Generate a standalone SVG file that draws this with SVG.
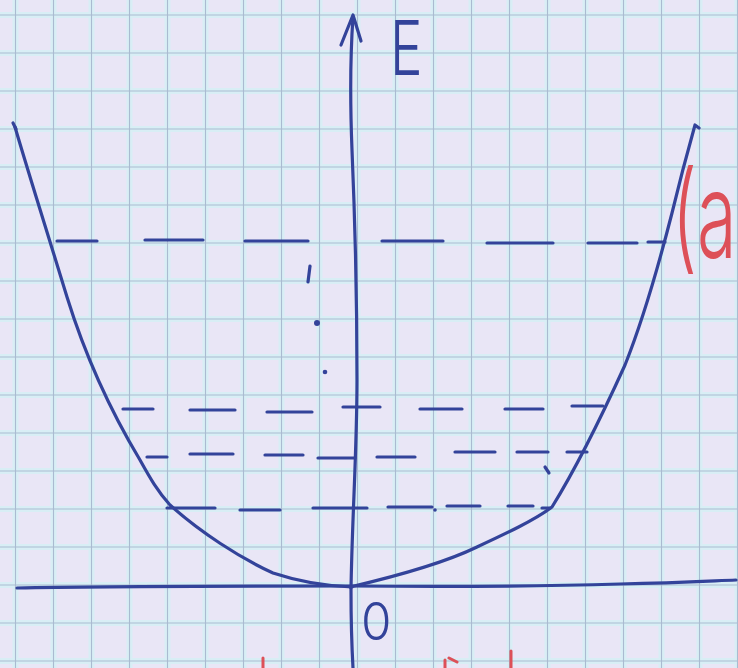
<svg xmlns="http://www.w3.org/2000/svg" width="738" height="668" viewBox="0 0 738 668">
<style>
.band{stroke:#d8eef5;stroke-width:6;fill:none}
.rule{stroke:#aabbd1;stroke-width:1.1;fill:none}
.ink{stroke:#33439a;stroke-width:3.2;fill:none;stroke-linecap:round;stroke-linejoin:round}
.red{stroke:#dd5058;stroke-width:3;fill:none;stroke-linecap:round}
.lbl{font-family:Inter,"Liberation Sans",sans-serif;font-weight:300;fill:#33439a}
</style>
<rect width="738" height="668" fill="#e9e6f6"/>
<g id="grid">
<path class="band" d="M15.5,0V668M53.5,0V668M91.5,0V668M129.5,0V668M167.5,0V668M205.5,0V668M243.5,0V668M281.5,0V668M319.5,0V668M357.5,0V668M395.5,0V668M433.5,0V668M471.5,0V668M509.5,0V668M547.5,0V668M585.5,0V668M623.5,0V668M661.5,0V668M699.5,0V668M737.5,0V668M0,15H738M0,53H738M0,91H738M0,129H738M0,167H738M0,205H738M0,243H738M0,281H738M0,319H738M0,357H738M0,395H738M0,433H738M0,471H738M0,509H738M0,547H738M0,585H738M0,623H738M0,661H738"/>
<path class="rule" d="M15.5,0V668M53.5,0V668M91.5,0V668M129.5,0V668M167.5,0V668M205.5,0V668M243.5,0V668M281.5,0V668M319.5,0V668M357.5,0V668M395.5,0V668M433.5,0V668M471.5,0V668M509.5,0V668M547.5,0V668M585.5,0V668M623.5,0V668M661.5,0V668M699.5,0V668M737.5,0V668M0,15H738M0,53H738M0,91H738M0,129H738M0,167H738M0,205H738M0,243H738M0,281H738M0,319H738M0,357H738M0,395H738M0,433H738M0,471H738M0,509H738M0,547H738M0,585H738M0,623H738M0,661H738"/>
</g>
<g id="axes">
<path class="ink" d="M17,588 C100,586 250,586 350,586 C450,587 550,586 620,584 C680,583 710,581 736,580"/>
<path class="ink" d="M353,17 C350,60 350,100 352,150 C355,220 357,300 357,380 C357,450 352,520 351,590 C351,630 352,650 353,668"/>
<path class="ink" d="M341,45 L353,15 L361,41" stroke-width="3.5"/>
</g>
<g id="potential">
<path class="ink" d="M15,127 C30,178 45,225 67,297 C85,355 110,410 140,460 C150,478 158,492 170,505 C200,532 240,558 273,573 C300,582 325,586 352,587"/>
<path class="ink" d="M13,123 L16,129"/>
<path class="ink" d="M350,587 C380,580 440,565 477,547 C505,534 535,520 552,507 C575,470 600,420 625,365 C645,315 660,260 672,213 C680,180 688,150 695,125 L699,128"/>
</g>
<g id="levels">
<path class="ink" d="M57,241H97M145,240H203M245,241H308M382,241H443M487,243H553M588,243H637M648,242H665"/>
<path class="ink" d="M123,409H153M190,410H235M267,412H312M343,407H380M420,409H462M505,409H543M572,406H603"/>
<path class="ink" d="M147,457H167M190,454H233M265,455H303M318,458H355M377,457H415M455,452H495M517,452H548M567,452H587"/>
<path class="ink" d="M167,508H215M240,510H280M313,508H367M388,507H432M447,506H480M508,506H533M542,508H550"/>
</g>
<g id="marks">
<path class="ink" d="M310,266 L308,282" stroke-width="2.5"/>
<circle cx="317" cy="323" r="3" fill="#33439a"/>
<circle cx="325" cy="372" r="2.3" fill="#33439a"/>
<circle cx="435" cy="510" r="1.8" fill="#33439a"/>
<path class="ink" d="M545,467 L549,473" stroke-width="2"/>
</g>
<g id="labels">
<text class="lbl" font-size="76" transform="translate(390,75) scale(0.72,1)">E</text>
<text class="lbl" font-size="52" transform="translate(361,640) scale(0.95,1)">0</text>
<text font-family="Inter,'Liberation Sans',sans-serif" font-weight="300" font-size="120" fill="#dd5058" transform="translate(672,258) scale(0.6,1)">(a</text>
</g>
<g id="red-marks">
<path class="red" d="M263,658V668M445,660V668M449,658L457,662M511,651V668"/>
</g>
</svg>
